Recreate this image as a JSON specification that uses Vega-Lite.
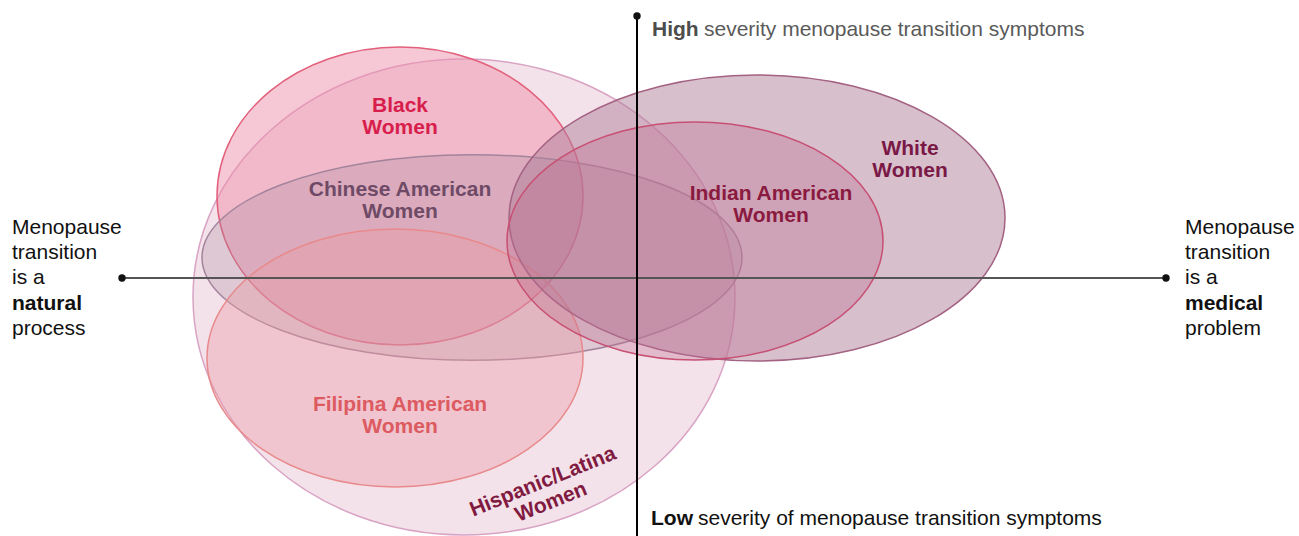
{
  "$schema": "https://vega.github.io/schema/vega-lite/v6.json",
  "width": 1299,
  "height": 536,
  "autosize": {"type": "none"},
  "padding": 0,
  "background": "white",
  "config": {"view": {"stroke": null}, "font": "Liberation Sans, Arial, sans-serif"},
  "datasets": {
    "groups": [
      {"group": "Hispanic/Latina Women", "x": -173, "y": -19, "rx": 271},
      {"group": "Black Women", "x": -237, "y": 82, "rx": 183},
      {"group": "Chinese American Women", "x": -165, "y": 20.5, "rx": 270},
      {"group": "Filipina American Women", "x": -242, "y": -80, "rx": 188},
      {"group": "White Women", "x": 120, "y": 60, "rx": 248},
      {"group": "Indian American Women", "x": 58, "y": 37, "rx": 188}
    ],
    "labels": [
      {"group": "Black Women", "label": "Black\nWomen", "x": -237, "y": 172},
      {"group": "Chinese American Women", "label": "Chinese American\nWomen", "x": -237, "y": 88},
      {"group": "Filipina American Women", "label": "Filipina American\nWomen", "x": -237, "y": -127},
      {"group": "Indian American Women", "label": "Indian American\nWomen", "x": 134, "y": 84},
      {"group": "White Women", "label": "White\nWomen", "x": 273, "y": 129},
      {"group": "Hispanic/Latina Women", "label": "Hispanic/Latina\nWomen", "x": -94, "y": -204}
    ],
    "axes": [
      {"axis": "view of menopause", "x": -515, "x2": 529, "y": 0, "y2": 0},
      {"axis": "symptom severity", "x": 0, "x2": 0, "y": 262, "y2": -258}
    ],
    "ends": [
      {"end": "natural", "x": -515, "y": 0},
      {"end": "medical", "x": 529, "y": 0},
      {"end": "high", "x": 0, "y": 262}
    ],
    "endLabels": [
      {"end": "natural", "text": "Menopause", "key": false, "x": -625, "y": 44},
      {"end": "natural", "text": "transition", "key": false, "x": -625, "y": 19},
      {"end": "natural", "text": "is a", "key": false, "x": -625, "y": -6},
      {"end": "natural", "text": "natural", "key": true, "x": -625, "y": -31.5},
      {"end": "natural", "text": "process", "key": false, "x": -625, "y": -57},
      {"end": "medical", "text": "Menopause", "key": false, "x": 548, "y": 44},
      {"end": "medical", "text": "transition", "key": false, "x": 548, "y": 19},
      {"end": "medical", "text": "is a", "key": false, "x": 548, "y": -6},
      {"end": "medical", "text": "medical", "key": true, "x": 548, "y": -31.5},
      {"end": "medical", "text": "problem", "key": false, "x": 548, "y": -57},
      {"end": "high", "text": "High", "key": true, "x": 15, "y": 242},
      {"end": "high", "text": "severity menopause transition symptoms", "key": false, "x": 67, "y": 242},
      {"end": "low", "text": "Low", "key": true, "x": 14, "y": -247},
      {"end": "low", "text": "severity of menopause transition symptoms", "key": false, "x": 61, "y": -247}
    ]
  },
  "layer": [
    {
      "data": {"name": "groups"},
      "mark": {"type": "point", "filled": true, "opacity": 1, "fillOpacity": 1, "strokeWidth": 1.5, "strokeOpacity": 1},
      "encoding": {
        "x": {"field": "x", "type": "quantitative", "scale": {"domain": [-637, 662], "nice": false, "zero": false}, "axis": null},
        "y": {"field": "y", "type": "quantitative", "scale": {"domain": [-258, 278], "nice": false, "zero": false}, "axis": null},
        "size": {"field": "rx", "type": "quantitative", "scale": {"type": "pow", "exponent": 2, "domain": [0, 300], "range": [0, 360000]}, "legend": null},
        "shape": {
          "field": "group", "type": "nominal", "legend": null,
          "scale": {
            "domain": ["Hispanic/Latina Women", "Black Women", "Chinese American Women", "Filipina American Women", "White Women", "Indian American Women"],
            "range": [
              "M-1,0C-1,-0.4849 -0.5523,-0.878 0,-0.878C0.5523,-0.878 1,-0.4849 1,0C1,0.4849 0.5523,0.878 0,0.878C-0.5523,0.878 -1,0.4849 -1,0Z",
              "M-1,0C-1,-0.4496 -0.5523,-0.814 0,-0.814C0.5523,-0.814 1,-0.4496 1,0C1,0.4496 0.5523,0.814 0,0.814C-0.5523,0.814 -1,0.4496 -1,0Z",
              "M-1,0C-1,-0.2104 -0.5523,-0.381 0,-0.381C0.5523,-0.381 1,-0.2104 1,0C1,0.2104 0.5523,0.381 0,0.381C-0.5523,0.381 -1,0.2104 -1,0Z",
              "M-1,0C-1,-0.3789 -0.5523,-0.686 0,-0.686C0.5523,-0.686 1,-0.3789 1,0C1,0.3789 0.5523,0.686 0,0.686C-0.5523,0.686 -1,0.3789 -1,0Z",
              "M-1,0C-1,-0.3187 -0.5523,-0.577 0,-0.577C0.5523,-0.577 1,-0.3187 1,0C1,0.3187 0.5523,0.577 0,0.577C-0.5523,0.577 -1,0.3187 -1,0Z",
              "M-1,0C-1,-0.3496 -0.5523,-0.633 0,-0.633C0.5523,-0.633 1,-0.3496 1,0C1,0.3496 0.5523,0.633 0,0.633C-0.5523,0.633 -1,0.3496 -1,0Z"
            ]
          }
        },
        "fill": {
          "field": "group", "type": "nominal", "legend": null,
          "scale": {
            "domain": ["Hispanic/Latina Women", "Black Women", "Chinese American Women", "Filipina American Women", "White Women", "Indian American Women"],
            "range": ["rgba(230,191,210,0.45)", "rgba(238,143,169,0.5)", "rgba(168,138,160,0.3)", "rgba(235,156,166,0.4)", "rgba(176,127,154,0.5)", "rgba(192,112,143,0.35)"]
          }
        },
        "stroke": {
          "field": "group", "type": "nominal", "legend": null,
          "scale": {
            "domain": ["Hispanic/Latina Women", "Black Women", "Chinese American Women", "Filipina American Women", "White Women", "Indian American Women"],
            "range": ["#d9a3c4", "#e2607c", "#a3849c", "#e88a8c", "#a46283", "#c75073"]
          }
        }
      }
    },
    {
      "data": {"name": "axes"},
      "transform": [{"filter": "datum.axis == 'view of menopause'"}],
      "mark": {"type": "rule", "color": "#555555", "strokeWidth": 2},
      "encoding": {
        "x": {"field": "x", "type": "quantitative"},
        "x2": {"field": "x2"},
        "y": {"field": "y", "type": "quantitative"},
        "y2": {"field": "y2"}
      }
    },
    {
      "data": {"name": "axes"},
      "transform": [{"filter": "datum.axis == 'symptom severity'"}],
      "mark": {"type": "rule", "color": "#000000", "strokeWidth": 2},
      "encoding": {
        "x": {"field": "x", "type": "quantitative"},
        "x2": {"field": "x2"},
        "y": {"field": "y", "type": "quantitative"},
        "y2": {"field": "y2"}
      }
    },
    {
      "data": {"name": "ends"},
      "mark": {"type": "point", "shape": "circle", "filled": true, "opacity": 1, "color": "#111111", "size": 55},
      "encoding": {
        "x": {"field": "x", "type": "quantitative"},
        "y": {"field": "y", "type": "quantitative"}
      }
    },
    {
      "data": {"name": "labels"},
      "transform": [{"filter": "datum.group != 'Hispanic/Latina Women'"}],
      "mark": {"type": "text", "fontWeight": "bold", "fontSize": 21, "lineBreak": "\n", "lineHeight": 22, "align": "center", "baseline": "middle"},
      "encoding": {
        "x": {"field": "x", "type": "quantitative"},
        "y": {"field": "y", "type": "quantitative"},
        "text": {"field": "label", "type": "nominal"},
        "color": {
          "field": "group", "type": "nominal", "legend": null,
          "scale": {
            "domain": ["Hispanic/Latina Women", "Black Women", "Chinese American Women", "Filipina American Women", "White Women", "Indian American Women"],
            "range": ["#801a40", "#d81e4c", "#6e4a66", "#dc5a60", "#7a1846", "#8a1a40"]
          }
        }
      }
    },
    {
      "data": {"name": "labels"},
      "transform": [{"filter": "datum.group == 'Hispanic/Latina Women'"}],
      "mark": {"type": "text", "fontWeight": "bold", "fontSize": 21, "lineBreak": "\n", "lineHeight": 22, "align": "center", "baseline": "middle", "angle": 338},
      "encoding": {
        "x": {"field": "x", "type": "quantitative"},
        "y": {"field": "y", "type": "quantitative"},
        "text": {"field": "label", "type": "nominal"},
        "color": {"field": "group", "type": "nominal", "legend": null}
      }
    },
    {
      "data": {"name": "endLabels"},
      "transform": [{"filter": "(datum.end == 'natural' || datum.end == 'medical' || datum.end == 'low') && !datum.key"}],
      "mark": {"type": "text", "fontSize": 21, "align": "left", "baseline": "alphabetic", "color": "#111111"},
      "encoding": {
        "x": {"field": "x", "type": "quantitative"},
        "y": {"field": "y", "type": "quantitative"},
        "text": {"field": "text", "type": "nominal"}
      }
    },
    {
      "data": {"name": "endLabels"},
      "transform": [{"filter": "(datum.end == 'natural' || datum.end == 'medical' || datum.end == 'low') && datum.key"}],
      "mark": {"type": "text", "fontSize": 21, "fontWeight": "bold", "align": "left", "baseline": "alphabetic", "color": "#111111"},
      "encoding": {
        "x": {"field": "x", "type": "quantitative"},
        "y": {"field": "y", "type": "quantitative"},
        "text": {"field": "text", "type": "nominal"}
      }
    },
    {
      "data": {"name": "endLabels"},
      "transform": [{"filter": "datum.end == 'high' && !datum.key"}],
      "mark": {"type": "text", "fontSize": 21, "align": "left", "baseline": "alphabetic", "color": "#5a5a5a"},
      "encoding": {
        "x": {"field": "x", "type": "quantitative"},
        "y": {"field": "y", "type": "quantitative"},
        "text": {"field": "text", "type": "nominal"}
      }
    },
    {
      "data": {"name": "endLabels"},
      "transform": [{"filter": "datum.end == 'high' && datum.key"}],
      "mark": {"type": "text", "fontSize": 21, "fontWeight": "bold", "align": "left", "baseline": "alphabetic", "color": "#4d4d4d"},
      "encoding": {
        "x": {"field": "x", "type": "quantitative"},
        "y": {"field": "y", "type": "quantitative"},
        "text": {"field": "text", "type": "nominal"}
      }
    }
  ]
}
